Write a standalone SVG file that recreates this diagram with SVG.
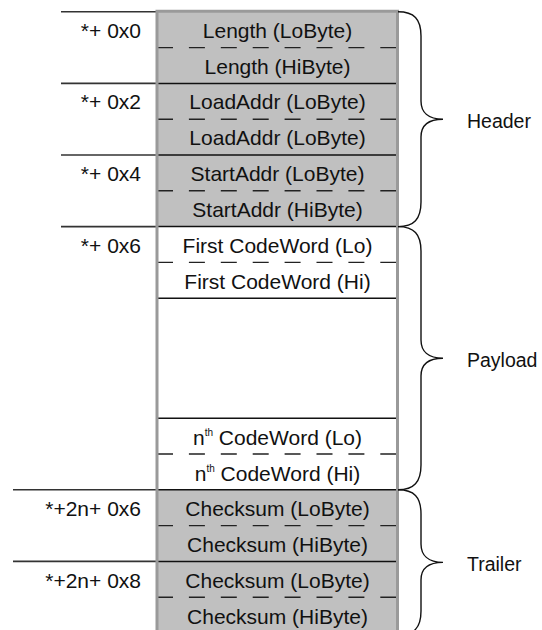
<svg xmlns="http://www.w3.org/2000/svg" width="542" height="630" viewBox="0 0 542 630">
  <style>
    .cell-txt { font-family: "Liberation Sans", Arial, sans-serif; font-size: 21px; fill: #111; text-anchor: middle; }
    .addr-txt { font-family: "Liberation Sans", Arial, sans-serif; font-size: 21px; fill: #111; text-anchor: end; }
    .seg-txt { font-family: "Liberation Sans", Arial, sans-serif; font-size: 19.5px; fill: #111; }
    .sup { font-size: 10px; }
    .gray { fill: #c0c0c0; }
    .white { fill: #ffffff; }
    .solid { stroke: #111; stroke-width: 1.5; fill: none; }
    .dash { stroke: #222; stroke-width: 1.4; stroke-dasharray: 16 15.9; fill: none; }
    .addr-line { stroke: #333; stroke-width: 1.6; fill: none; }
    .border { stroke: #9a9a9a; stroke-width: 3; fill: none; }
    .brace { stroke: #111; stroke-width: 1.4; fill: none; }
  </style>

  <!-- column backgrounds -->
  <rect class="gray" x="157" y="11.8" width="240.5" height="214.8"/>
  <rect class="white" x="157" y="226.6" width="240.5" height="263.2"/>
  <rect class="gray" x="157" y="489.8" width="240.5" height="145"/>

  <!-- header cells -->
  <g id="length-lo"><text class="cell-txt" x="277.5" y="37.8">Length (LoByte)</text></g>
  <g id="length-hi"><text class="cell-txt" x="277.5" y="73.6">Length (HiByte)</text></g>
  <g id="loadaddr-lo"><text class="cell-txt" x="277.5" y="109.4">LoadAddr (LoByte)</text></g>
  <g id="loadaddr-hi"><text class="cell-txt" x="277.5" y="145.2">LoadAddr (LoByte)</text></g>
  <g id="startaddr-lo"><text class="cell-txt" x="277.5" y="181.0">StartAddr (LoByte)</text></g>
  <g id="startaddr-hi"><text class="cell-txt" x="277.5" y="216.8">StartAddr (HiByte)</text></g>

  <!-- payload cells -->
  <g id="first-lo"><text class="cell-txt" x="277.5" y="252.8">First CodeWord (Lo)</text></g>
  <g id="first-hi"><text class="cell-txt" x="277.5" y="288.6">First CodeWord (Hi)</text></g>
  <g id="payload-gap"><rect x="157" y="298.2" width="240.5" height="120" fill="none"/></g>
  <g id="nth-lo"><text class="cell-txt" x="277.5" y="444.7">n<tspan class="sup" dy="-9">th</tspan><tspan dy="9"> CodeWord (Lo)</tspan></text></g>
  <g id="nth-hi"><text class="cell-txt" x="277.5" y="480.5">n<tspan class="sup" dy="-9">th</tspan><tspan dy="9"> CodeWord (Hi)</tspan></text></g>

  <!-- trailer cells -->
  <g id="checksum1-lo"><text class="cell-txt" x="277.5" y="516.3">Checksum (LoByte)</text></g>
  <g id="checksum1-hi"><text class="cell-txt" x="277.5" y="552.1">Checksum (HiByte)</text></g>
  <g id="checksum2-lo"><text class="cell-txt" x="277.5" y="587.9">Checksum (LoByte)</text></g>
  <g id="checksum2-hi"><text class="cell-txt" x="277.5" y="623.7">Checksum (HiByte)</text></g>

  <!-- address offsets -->
  <g id="addr-0"><text class="addr-txt" x="141" y="37.8">*+ 0x0</text></g>
  <g id="addr-2"><text class="addr-txt" x="141" y="109.4">*+ 0x2</text></g>
  <g id="addr-4"><text class="addr-txt" x="141" y="181.0">*+ 0x4</text></g>
  <g id="addr-6"><text class="addr-txt" x="141" y="252.8">*+ 0x6</text></g>
  <g id="addr-2n6"><text class="addr-txt" x="141" y="516.3">*+2n+ 0x6</text></g>
  <g id="addr-2n8"><text class="addr-txt" x="141" y="587.9">*+2n+ 0x8</text></g>

  <!-- segment labels -->
  <g id="label-header"><text class="seg-txt" x="467" y="127.5">Header</text></g>
  <g id="label-payload"><text class="seg-txt" x="467" y="366.5">Payload</text></g>
  <g id="label-trailer"><text class="seg-txt" x="467" y="570.5">Trailer</text></g>

  <g id="connectors">
    <!-- byte separators inside a word -->
    <line class="dash" x1="157" y1="47.6" x2="397" y2="47.6"/>
    <line class="dash" x1="157" y1="119.2" x2="397" y2="119.2"/>
    <line class="dash" x1="157" y1="190.8" x2="397" y2="190.8"/>
    <line class="dash" x1="157" y1="262.4" x2="397" y2="262.4"/>
    <line class="dash" x1="157" y1="454.0" x2="397" y2="454.0"/>
    <line class="dash" x1="157" y1="525.6" x2="397" y2="525.6"/>
    <line class="dash" x1="157" y1="597.2" x2="397" y2="597.2"/>
    <!-- word separators -->
    <line class="solid" x1="157" y1="83.4" x2="397" y2="83.4"/>
    <line class="solid" x1="157" y1="155.0" x2="397" y2="155.0"/>
    <line class="solid" x1="157" y1="226.6" x2="397" y2="226.6"/>
    <line class="solid" x1="157" y1="298.2" x2="397" y2="298.2"/>
    <line class="solid" x1="157" y1="418.2" x2="397" y2="418.2"/>
    <line class="solid" x1="157" y1="489.8" x2="397" y2="489.8"/>
    <line class="solid" x1="157" y1="561.4" x2="397" y2="561.4"/>
    <!-- address ticks -->
    <line class="addr-line" x1="61" y1="11.8" x2="157" y2="11.8"/>
    <line class="addr-line" x1="61" y1="83.4" x2="157" y2="83.4"/>
    <line class="addr-line" x1="61" y1="155.0" x2="157" y2="155.0"/>
    <line class="addr-line" x1="61" y1="226.6" x2="157" y2="226.6"/>
    <line class="addr-line" x1="13" y1="489.8" x2="157" y2="489.8"/>
    <line class="addr-line" x1="13" y1="561.4" x2="157" y2="561.4"/>
    <!-- column frame -->
    <path class="border" d="M157 640 V11.3 H397.5 V640"/>
    <!-- braces -->
    <path class="brace" d="M398 11.8 C414 11.8 421 19 421 36 L421 101 C421 112 428 119.2 443 119.2 C428 119.2 421 126 421 137 L421 202 C421 219 414 226.6 398 226.6"/>
    <path class="brace" d="M398 226.6 C414 226.6 421 234 421 251 L421 340 C421 351 428 358.2 443 358.2 C428 358.2 421 365 421 376 L421 465 C421 482 414 489.8 398 489.8"/>
    <path class="brace" d="M398 489.8 C414 489.8 421 497 421 514 L421 544 C421 555 428 562.4 443 562.4 C428 562.4 421 569 421 580 L421 611 C421 628 414 635 398 635"/>
  </g>
</svg>
